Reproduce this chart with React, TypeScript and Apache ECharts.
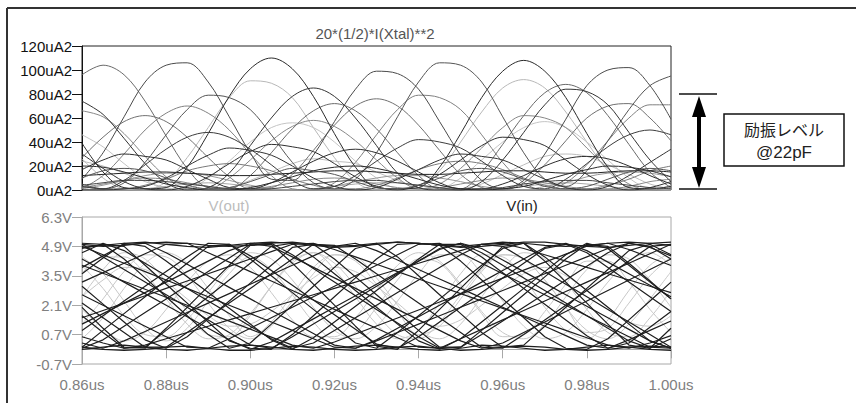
import React, { useEffect, useRef } from "react";
import * as echarts from "echarts";

// time samples (us)
const times = [0.86, 0.865, 0.87, 0.875, 0.88, 0.885, 0.89, 0.895, 0.9, 0.905, 0.91, 0.915, 0.92, 0.925, 0.93, 0.935, 0.94, 0.945, 0.95, 0.955, 0.96, 0.965, 0.97, 0.975, 0.98, 0.985, 0.99, 0.995, 1.0];
const powerTicks = [0, 20, 40, 60, 80, 100, 120];
const voltTicks = [-0.7, 0.7, 2.1, 3.5, 4.9, 6.3];
const timeTicks = [0.86, 0.88, 0.9, 0.92, 0.94, 0.96, 0.98, 1.0];

// 20*(1/2)*I(Xtal)**2 traces, uA^2
const p01 = [9, 31, 61, 90, 104, 106, 90, 61, 31, 9, 8, 29, 57, 84, 99, 97, 84, 57, 29, 8, 1, 8, 30, 59, 87, 100, 102, 87, 59];
const p02 = [39, 15, 2, 1, 2, 19, 47, 78, 101, 110, 101, 78, 47, 19, 2, 1, 2, 19, 47, 77, 99, 108, 99, 77, 47, 19, 2, 1, 3];
const p03 = [96, 104, 96, 74, 45, 18, 2, 1, 12, 31, 51, 66, 72, 66, 51, 31, 12, 1, 1, 15, 38, 62, 81, 88, 81, 62, 38, 15, 2];
const p04 = [5, 1, 6, 23, 46, 67, 79, 77, 67, 46, 23, 6, 1, 9, 31, 61, 90, 106, 104, 90, 61, 31, 9, 3, 16, 41, 67, 87, 95];
const p05 = [26, 10, 1, 0, 7, 27, 52, 77, 91, 89, 77, 52, 27, 7, 0, 0, 2, 16, 40, 65, 85, 92, 85, 65, 40, 16, 2, 0, 4];
const p06 = [74, 63, 43, 22, 6, 0, 2, 14, 37, 60, 78, 85, 78, 60, 37, 14, 2, 0, 0, 7, 25, 48, 71, 84, 82, 71, 48, 25, 7];
const p07 = [27, 44, 57, 62, 57, 44, 27, 11, 1, 2, 13, 33, 54, 70, 76, 70, 54, 33, 13, 2, 0, 6, 21, 41, 60, 70, 72, 60, 41];
const p08 = [66, 61, 47, 28, 11, 1, 1, 10, 25, 41, 53, 58, 53, 41, 25, 10, 1, 5, 18, 35, 52, 62, 60, 52, 35, 18, 5, 0, 2];
const p09 = [3, 1, 8, 21, 34, 44, 48, 44, 34, 21, 8, 1, 3, 12, 24, 35, 42, 40, 35, 24, 12, 3, 1, 9, 22, 36, 46, 50, 46];
const p10 = [46, 36, 22, 9, 1, 1, 10, 24, 40, 52, 56, 52, 40, 24, 10, 1, 0, 1, 10, 25, 40, 52, 57, 52, 40, 25, 10, 1, 0];
const p11 = [17, 25, 30, 28, 25, 17, 9, 2, 1, 6, 15, 24, 31, 34, 31, 24, 15, 6, 1, 1, 5, 12, 20, 26, 28, 26, 20, 12, 5];
const p12 = [3, 1, 1, 4, 9, 16, 20, 22, 20, 16, 9, 4, 1, 1, 4, 10, 17, 22, 24, 22, 17, 10, 4, 1, 1, 4, 9, 16, 20];
const p13 = [12, 13, 14, 15, 15, 14, 13, 12, 12, 13, 14, 15, 16, 16, 15, 14, 13, 13, 14, 15, 16, 16, 15, 14, 14, 15, 16, 16, 15];
const p14 = [1, 4, 8, 12, 14, 14, 12, 8, 4, 1, 0, 1, 3, 7, 10, 12, 12, 10, 7, 3, 1, 0, 3, 6, 11, 14, 15, 14, 11];
const p15 = [4, 6, 8, 8, 7, 5, 3, 1, 0, 1, 3, 5, 7, 8, 8, 6, 4, 2, 0, 1, 2, 5, 7, 8, 8, 6, 4, 2, 1];
const p16 = [24, 20, 14, 7, 2, 0, 0, 2, 8, 15, 22, 26, 24, 22, 15, 8, 2, 0, 1, 5, 13, 21, 28, 30, 28, 21, 13, 5, 1];
const p17 = [30, 18, 7, 1, 0, 3, 11, 22, 32, 38, 36, 32, 22, 11, 3, 0, 4, 13, 25, 37, 44, 42, 37, 25, 13, 4, 0, 2, 7];
const p18 = [1, 12, 30, 50, 64, 70, 64, 50, 30, 12, 1, 0, 6, 23, 46, 67, 79, 77, 67, 46, 23, 6, 0, 6, 21, 41, 60, 71, 71];
const p19 = [10, 16, 18, 16, 10, 4, 1, 2, 7, 13, 18, 16, 13, 7, 2, 1, 4, 10, 16, 18, 15, 9, 3, 1, 3, 9, 15, 18, 16];
const p20 = [2, 5, 8, 10, 9, 6, 3, 1, 1, 3, 6, 9, 10, 8, 5, 2, 1, 2, 5, 8, 10, 9, 6, 3, 1, 1, 3, 7, 9];
const p21 = [0, 0, 1, 3, 10, 20, 29, 35, 33, 29, 20, 10, 3, 0, 2, 9, 17, 25, 30, 28, 25, 17, 9, 2, 0, 3, 12, 23, 34];
const p22 = [3, 1, 0, 1, 3, 5, 6, 5, 3, 1, 0, 1, 3, 5, 6, 6, 4, 2, 1, 0, 1, 3, 5, 6, 5, 3, 1, 0, 1];
const p23 = [20, 19, 15, 10, 5, 2, 0, 0, 2, 6, 11, 16, 19, 20, 18, 14, 9, 4, 1, 0, 1, 3, 8, 13, 17, 20, 19, 16, 11];
const powerTraces = [p05, p10, p16, p22, p08, p14, p20, p12, p03, p07, p18, p04, p01, p02, p06, p09, p11, p13, p15, p17, p19, p21, p23];
const powerColors = ["#b8b8b8", "#c4c4c4", "#bdbdbd", "#a8a8a8", "#888888", "#999999", "#8a8a8a", "#7a7a7a", "#6a6a6a", "#707070", "#808080", "#555555", "#4a4a4a", "#2a2a2a", "#333333", "#3c3c3c", "#2e2e2e", "#222222", "#444444", "#303030", "#555555", "#333333", "#2a2a2a"];

// V(out) traces, V
const vout1 = [0.5, 1.5, 2.9, 4.1, 4.6, 4.1, 2.9, 1.6, 0.6, 1.3, 2.6, 3.9, 4.5, 4.2, 3.1, 1.8, 0.7, 1.1, 2.4, 3.7, 4.5, 4.3, 3.3, 2.0, 0.8, 1.0, 2.2, 3.5, 4.4];
const vout2 = [4.4, 3.6, 2.3, 1.0, 0.4, 1.0, 2.3, 3.6, 4.4, 3.8, 2.6, 1.3, 0.5, 0.8, 2.0, 3.3, 4.3, 4.1, 3.0, 1.7, 0.6, 0.7, 1.8, 3.1, 4.2, 4.2, 3.2, 1.9, 0.8];
const vout3 = [2.5, 3.8, 4.6, 4.3, 3.2, 1.8, 0.7, 0.6, 1.6, 3.0, 4.2, 4.6, 3.8, 2.5, 1.2, 0.5, 0.9, 2.2, 3.6, 4.5, 4.4, 3.4, 2.0, 0.9, 0.5, 1.4, 2.8, 4.0, 4.6];
const vout4 = [1.9, 1.0, 0.4, 0.8, 1.9, 3.2, 4.2, 4.5, 3.9, 2.7, 1.4, 0.6, 0.6, 1.5, 2.8, 4.0, 4.6, 4.2, 3.1, 1.8, 0.8, 0.5, 1.2, 2.5, 3.8, 4.5, 4.3, 3.3, 2.0];
const vout5 = [2.5, 3.3, 3.9, 3.8, 3.2, 2.4, 1.6, 1.1, 1.2, 1.8, 2.6, 3.4, 3.9, 3.7, 3.0, 2.2, 1.4, 1.1, 1.4, 2.1, 2.9, 3.6, 3.9, 3.5, 2.8, 2.0, 1.3, 1.1, 1.6];
const vout6 = [3.6, 4.4, 4.4, 3.6, 2.4, 1.2, 0.5, 0.7, 1.7, 3.0, 4.1, 4.6, 4.1, 3.0, 1.7, 0.7, 0.5, 1.3, 2.6, 3.8, 4.5, 4.3, 3.3, 2.0, 0.9, 0.5, 1.2, 2.4, 3.7];
const vout7 = [1.2, 2.4, 3.7, 4.5, 4.4, 3.5, 2.2, 1.0, 0.5, 1.1, 2.3, 3.6, 4.5, 4.4, 3.4, 2.1, 0.9, 0.5, 1.2, 2.5, 3.8, 4.6, 4.3, 3.2, 1.9, 0.8, 0.6, 1.5, 2.8];
const vout8 = [4.0, 2.9, 1.6, 0.7, 0.6, 1.4, 2.7, 3.9, 4.6, 4.3, 3.3, 2.0, 0.9, 0.5, 1.1, 2.3, 3.6, 4.5, 4.5, 3.6, 2.3, 1.1, 0.5, 0.8, 1.9, 3.2, 4.2, 4.6, 4.0];
const voutTraces = [vout1, vout2, vout3, vout4, vout5, vout6, vout7, vout8];

// V(in) traces, V
const vin01 = [5.0, 4.4, 3.8, 3.2, 2.6, 2.0, 1.4, 0.8, 0.2, 0.05, 0.6, 1.2, 1.8, 2.4, 3.0, 3.6, 4.2, 4.8, 5.05, 4.6, 4.0, 3.4, 2.8, 2.2, 1.6, 1.0, 0.4, 0.05, 0.5];
const vin02 = [0.1, 0.9, 1.7, 2.5, 3.3, 4.1, 4.9, 5.0, 4.3, 3.5, 2.7, 1.9, 1.1, 0.3, 0.05, 0.8, 1.6, 2.4, 3.2, 4.0, 4.8, 5.05, 4.4, 3.6, 2.8, 2.0, 1.2, 0.4, 0.05];
const vin03 = [3.2, 3.65, 4.1, 4.55, 5.0, 5.05, 4.6, 4.15, 3.7, 3.25, 2.8, 2.35, 1.9, 1.45, 1.0, 0.55, 0.1, 0.05, 0.5, 0.95, 1.4, 1.85, 2.3, 2.75, 3.2, 3.65, 4.1, 4.55, 5.0];
const vin04 = [2.0, 1.0, 0.1, 0.05, 1.0, 2.0, 3.0, 4.0, 4.95, 5.0, 4.1, 3.1, 2.1, 1.1, 0.15, 0.0, 0.9, 1.9, 2.9, 3.9, 4.9, 5.05, 4.2, 3.2, 2.2, 1.2, 0.2, 0.05, 1.0];
const vin05 = [4.3, 3.75, 3.2, 2.65, 2.1, 1.55, 1.0, 0.45, 0.0, 0.35, 0.9, 1.45, 2.0, 2.55, 3.1, 3.65, 4.2, 4.75, 5.05, 4.8, 4.25, 3.7, 3.15, 2.6, 2.05, 1.5, 0.95, 0.4, 0.05];
const vin06 = [0.9, 1.6, 2.3, 3.0, 3.7, 4.4, 5.05, 5.0, 4.45, 3.75, 3.05, 2.35, 1.65, 0.95, 0.25, 0.05, 0.6, 1.3, 2.0, 2.7, 3.4, 4.1, 4.8, 5.0, 4.6, 3.9, 3.2, 2.5, 1.8];
const vin07 = [1.5, 1.85, 2.2, 2.55, 2.9, 3.25, 3.6, 3.95, 4.3, 4.65, 5.0, 5.05, 4.75, 4.4, 4.05, 3.7, 3.35, 3.0, 2.65, 2.3, 1.95, 1.6, 1.25, 0.9, 0.55, 0.2, 0.05, 0.3, 0.65];
const vin08 = [4.8, 5.0, 4.3, 3.4, 2.5, 1.6, 0.7, 0.05, 0.3, 1.2, 2.1, 3.0, 3.9, 4.8, 5.05, 4.4, 3.5, 2.6, 1.7, 0.8, 0.1, 0.2, 1.1, 2.0, 2.9, 3.8, 4.7, 5.0, 4.5];
const vin09 = [2.6, 2.1, 1.6, 1.1, 0.6, 0.1, 0.05, 0.5, 1.0, 1.5, 2.0, 2.5, 3.0, 3.5, 4.0, 4.5, 5.0, 5.05, 4.6, 4.1, 3.6, 3.1, 2.6, 2.1, 1.6, 1.1, 0.6, 0.1, 0.05];
const vin10 = [0.05, 0.45, 1.1, 1.75, 2.4, 3.05, 3.7, 4.35, 5.0, 5.05, 4.5, 3.85, 3.2, 2.55, 1.9, 1.25, 0.6, 0.05, 0.1, 0.7, 1.35, 2.0, 2.65, 3.3, 3.95, 4.6, 5.05, 4.9, 4.3];
const vin11 = [4.9, 4.5, 4.1, 3.7, 3.3, 2.9, 2.5, 2.1, 1.7, 1.3, 0.9, 0.5, 0.1, 0.05, 0.4, 0.8, 1.2, 1.6, 2.0, 2.4, 2.8, 3.2, 3.6, 4.0, 4.4, 4.8, 5.05, 4.85, 4.45];
const vin12 = [3.6, 4.35, 5.05, 4.9, 4.2, 3.45, 2.7, 1.95, 1.2, 0.45, 0.0, 0.55, 1.3, 2.05, 2.8, 3.55, 4.3, 5.0, 5.0, 4.4, 3.65, 2.9, 2.15, 1.4, 0.65, 0.05, 0.3, 1.05, 1.8];
const vin13 = [4.85, 4.95, 5.05, 5.1, 5.0, 4.9, 4.85, 4.95, 5.05, 5.1, 5.05, 4.95, 4.85, 4.9, 5.0, 5.1, 5.05, 4.95, 4.85, 4.9, 5.0, 5.1, 5.1, 5.0, 4.9, 4.85, 4.95, 5.05, 5.1];
const vin14 = [0.1, 0.0, -0.05, 0.0, 0.1, 0.15, 0.05, -0.05, -0.05, 0.05, 0.15, 0.1, 0.0, -0.05, 0.0, 0.1, 0.15, 0.05, -0.05, 0.0, 0.1, 0.15, 0.1, 0.0, -0.05, 0.0, 0.1, 0.15, 0.1];
const vin15 = [3.0, 2.15, 1.3, 0.45, 0.05, 0.6, 1.45, 2.3, 3.15, 4.0, 4.85, 5.0, 4.3, 3.45, 2.6, 1.75, 0.9, 0.1, 0.1, 0.9, 1.75, 2.6, 3.45, 4.3, 5.0, 4.9, 4.1, 3.25, 2.4];
const vin16 = [0.6, 0.3, 0.05, 0.2, 0.5, 0.8, 1.1, 1.4, 1.7, 2.0, 2.3, 2.6, 2.9, 3.2, 3.5, 3.8, 4.1, 4.4, 4.7, 5.0, 5.05, 4.8, 4.5, 4.2, 3.9, 3.6, 3.3, 3.0, 2.7];
const vin17 = [4.6, 5.05, 4.7, 4.1, 3.5, 2.9, 2.3, 1.7, 1.1, 0.5, 0.05, 0.3, 0.9, 1.5, 2.1, 2.7, 3.3, 3.9, 4.5, 5.0, 4.9, 4.3, 3.7, 3.1, 2.5, 1.9, 1.3, 0.7, 0.1];
const vin18 = [1.2, 1.7, 2.2, 2.7, 3.2, 3.7, 4.2, 4.7, 5.05, 4.9, 4.4, 3.9, 3.4, 2.9, 2.4, 1.9, 1.4, 0.9, 0.4, 0.05, 0.3, 0.8, 1.3, 1.8, 2.3, 2.8, 3.3, 3.8, 4.3];
const vin19 = [2.2, 1.5, 0.8, 0.1, 0.1, 0.8, 1.5, 2.2, 2.9, 3.6, 4.3, 5.0, 4.95, 4.3, 3.6, 2.9, 2.2, 1.5, 0.8, 0.1, 0.05, 0.7, 1.4, 2.1, 2.8, 3.5, 4.2, 4.9, 5.0];
const vin20 = [0.3, 0.05, 0.4, 0.85, 1.3, 1.75, 2.2, 2.65, 3.1, 3.55, 4.0, 4.45, 4.9, 5.05, 4.7, 4.25, 3.8, 3.35, 2.9, 2.45, 2.0, 1.55, 1.1, 0.65, 0.2, 0.05, 0.45, 0.9, 1.35];
const vin21 = [5.05, 5.0, 4.9, 4.0, 3.1, 2.2, 1.3, 0.4, 0.05, 0.0, 0.7, 1.6, 2.5, 3.4, 4.3, 5.0, 5.05, 4.95, 4.2, 3.3, 2.4, 1.5, 0.6, 0.05, 0.0, 0.5, 1.4, 2.3, 3.2];
const vin22 = [3.9, 4.45, 5.0, 5.05, 4.6, 4.05, 3.5, 2.95, 2.4, 1.85, 1.3, 0.75, 0.2, 0.05, 0.45, 1.0, 1.55, 2.1, 2.65, 3.2, 3.75, 4.3, 4.85, 5.05, 4.7, 4.15, 3.6, 3.05, 2.5];
const vin23 = [5.0, 4.9, 4.95, 5.05, 5.1, 5.05, 4.95, 4.9, 4.95, 5.05, 5.1, 5.0, 4.9, 4.95, 5.05, 5.1, 5.05, 4.95, 4.9, 5.0, 5.1, 5.05, 4.95, 4.9, 4.95, 5.05, 5.1, 5.05, 4.95];
const vin24 = [0.0, 0.1, 0.2, 0.1, 0.0, -0.05, 0.05, 0.15, 0.2, 0.1, 0.0, -0.05, 0.05, 0.15, 0.2, 0.1, 0.0, -0.05, 0.05, 0.2, 0.15, 0.05, -0.05, 0.0, 0.1, 0.2, 0.1, 0.0, -0.05];
const vin25 = [1.6, 0.8, 0.05, 0.1, 0.9, 1.7, 2.5, 3.3, 4.1, 4.9, 5.05, 4.4, 3.6, 2.8, 2.0, 1.2, 0.4, 0.0, 0.5, 1.3, 2.1, 2.9, 3.7, 4.5, 5.05, 4.8, 4.0, 3.2, 2.4];
const vin26 = [4.0, 3.62, 3.24, 2.86, 2.48, 2.1, 1.72, 1.34, 0.96, 0.58, 0.2, 0.05, 0.35, 0.73, 1.11, 1.49, 1.87, 2.25, 2.63, 3.01, 3.39, 3.77, 4.15, 4.53, 4.91, 5.05, 4.75, 4.37, 3.99];
const vinTraces = [vin01, vin02, vin03, vin04, vin05, vin06, vin07, vin08, vin09, vin10, vin11, vin12, vin13, vin14, vin15, vin16, vin17, vin18, vin19, vin20, vin21, vin22, vin23, vin24, vin25, vin26];

const FONT = '"Liberation Sans", Arial, sans-serif';

export default function App() {
  const ref = useRef<HTMLDivElement>(null);
  useEffect(() => {
    const chart = echarts.init(ref.current!, null, { renderer: "svg" });
    const pair = (arr: number[]) => times.map((t, i) => [t, arr[i]]);
    const series: any[] = [];
    powerTraces.forEach((arr, k) => {
      series.push({
        type: "line", xAxisIndex: 0, yAxisIndex: 0, data: pair(arr), smooth: 0.35,
        showSymbol: false, silent: true, lineStyle: { width: 1, color: powerColors[k] },
      });
    });
    voutTraces.forEach((arr) => {
      series.push({
        type: "line", xAxisIndex: 1, yAxisIndex: 1, data: pair(arr), smooth: 0.35,
        showSymbol: false, silent: true, lineStyle: { width: 1, color: "#c8c8c8" },
      });
    });
    vinTraces.forEach((arr) => {
      series.push({
        type: "line", xAxisIndex: 1, yAxisIndex: 1, data: pair(arr),
        showSymbol: false, silent: true, lineStyle: { width: 1.2, color: "#1e1e1e" },
      });
    });

    const option: any = {
      animation: false,
      backgroundColor: "#ffffff",
      textStyle: { fontFamily: FONT },
      grid: [
        { left: 82, top: 46, width: 589, height: 144, show: true, borderColor: "#222", borderWidth: 1, outerBoundsMode: "none" },
        { left: 82, top: 217, width: 589, height: 147, show: true, borderColor: "#a8a8a8", borderWidth: 1, outerBoundsMode: "none" },
      ],
      xAxis: [
        {
          type: "value", gridIndex: 0, min: 0.86, max: 1.0,
          axisLine: { show: false }, axisTick: { show: false }, axisLabel: { show: false }, splitLine: { show: false },
        },
        {
          type: "value", gridIndex: 1, min: 0.86, max: 1.0,
          axisLine: { show: true, lineStyle: { color: "#a8a8a8", width: 1 } },
          axisTick: { show: true, length: 9, customValues: timeTicks, lineStyle: { color: "#a8a8a8" } },
          axisLabel: {
            show: true, customValues: timeTicks, margin: 13, color: "#808080", fontSize: 15, fontFamily: FONT,
            formatter: (v: number) => v.toFixed(2) + "us",
          },
          splitLine: { show: false },
        },
      ],
      yAxis: [
        {
          type: "value", gridIndex: 0, min: 0, max: 120, interval: 20,
          axisLine: { show: true, lineStyle: { color: "#111", width: 1 } },
          axisTick: { show: true, length: 10, customValues: powerTicks, lineStyle: { color: "#111" } },
          axisLabel: {
            show: true, customValues: powerTicks, margin: 10, color: "#111", fontSize: 15, fontFamily: FONT,
            formatter: (v: number) => Math.round(v) + "uA2",
          },
          splitLine: { show: false },
        },
        {
          type: "value", gridIndex: 1, min: -0.7, max: 6.3,
          axisLine: { show: true, lineStyle: { color: "#a8a8a8", width: 1 } },
          axisTick: { show: true, length: 10, customValues: voltTicks, lineStyle: { color: "#a8a8a8" } },
          axisLabel: {
            show: true, customValues: voltTicks, margin: 10, color: "#808080", fontSize: 15, fontFamily: FONT,
            formatter: (v: number) => v.toFixed(1) + "V",
          },
          splitLine: { show: false },
        },
      ],
      series,
      graphic: [
        { type: "line", shape: { x1: 7, y1: 8, x2: 856, y2: 8 }, style: { stroke: "#333", lineWidth: 2 } },
        { type: "line", shape: { x1: 7, y1: 8, x2: 7, y2: 403 }, style: { stroke: "#333", lineWidth: 2 } },
        {
          type: "text", x: 375, y: 33,
          style: { text: "20*(1/2)*I(Xtal)**2", fill: "#555", font: `15px ${FONT}`, textAlign: "center", textVerticalAlign: "middle" },
        },
        {
          type: "text", x: 229, y: 205,
          style: { text: "V(out)", fill: "#bcbcbc", font: `15px ${FONT}`, textAlign: "center", textVerticalAlign: "middle" },
        },
        {
          type: "text", x: 522, y: 205,
          style: { text: "V(in)", fill: "#222", font: `15px ${FONT}`, textAlign: "center", textVerticalAlign: "middle" },
        },
        { type: "line", shape: { x1: 679, y1: 94, x2: 717, y2: 94 }, style: { stroke: "#111", lineWidth: 1.5 } },
        { type: "line", shape: { x1: 679, y1: 189, x2: 717, y2: 189 }, style: { stroke: "#111", lineWidth: 1.5 } },
        { type: "line", shape: { x1: 699, y1: 110, x2: 699, y2: 174 }, style: { stroke: "#000", lineWidth: 4 } },
        { type: "polygon", shape: { points: [[699, 96], [692, 117], [706, 117]] }, style: { fill: "#000" } },
        { type: "polygon", shape: { points: [[699, 188], [692, 167], [706, 167]] }, style: { fill: "#000" } },
        { type: "rect", shape: { x: 724, y: 114, width: 120, height: 52 }, style: { fill: "#fff", stroke: "#111", lineWidth: 1.5 } },
        {
          type: "text", x: 784, y: 129,
          style: { text: "励振レベル", fill: "#222", font: '16px "Noto Sans CJK JP", sans-serif', textAlign: "center", textVerticalAlign: "middle" },
        },
        {
          type: "text", x: 784, y: 152,
          style: { text: "@22pF", fill: "#222", font: `17px ${FONT}`, textAlign: "center", textVerticalAlign: "middle" },
        },
      ],
    };
    chart.setOption(option);
    return () => chart.dispose();
  }, []);
  return <div ref={ref} style={{ position: "fixed", left: 0, top: 0, width: 856, height: 403, background: "#fff" }} />;
}
